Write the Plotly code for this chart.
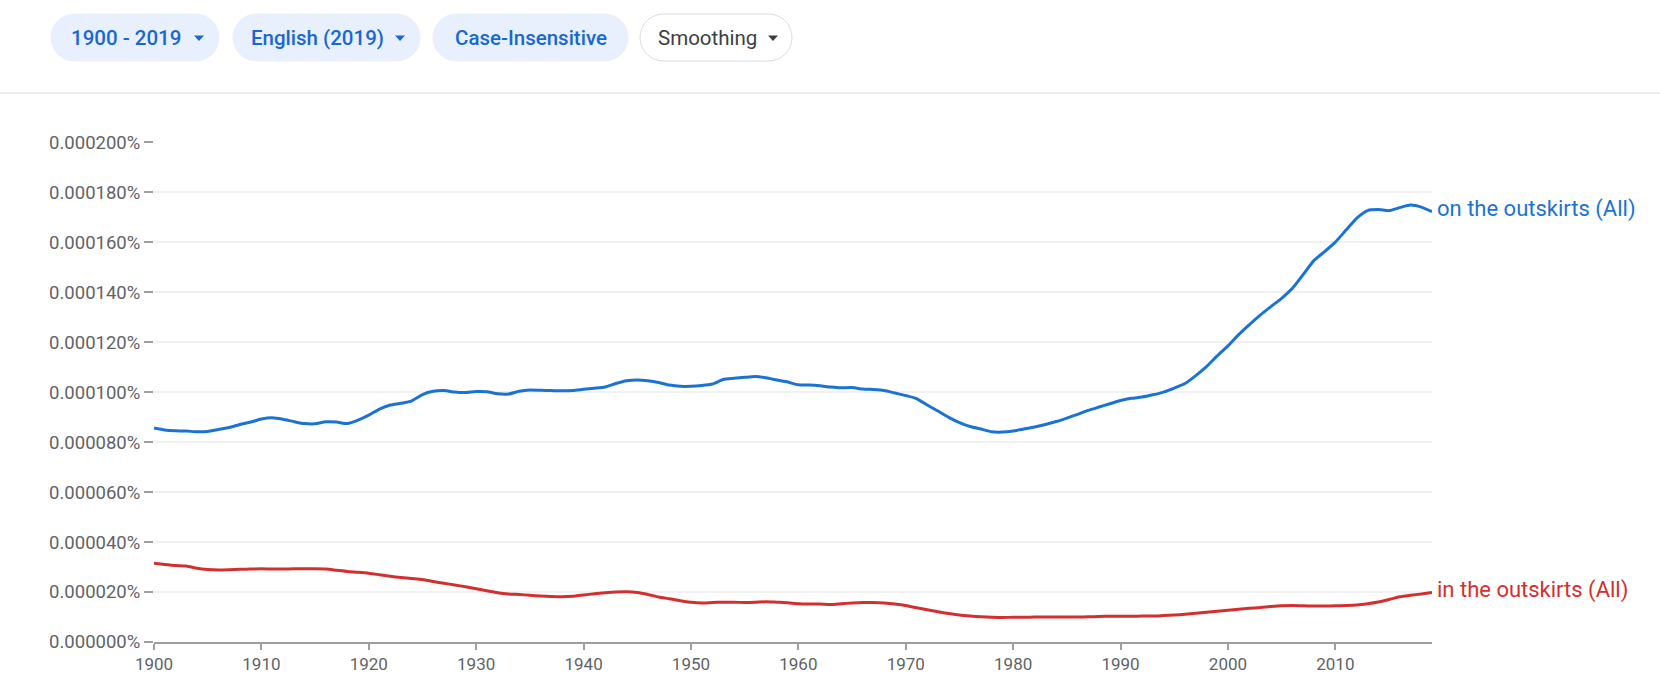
import numpy as np
import plotly.graph_objects as go

# ---------------- data (values in units of 0.000001 %) ----------------
years = list(range(1900, 2020))

on_the_outskirts = [
    85.6, 84.8, 84.5, 84.4, 84.1, 84.2, 85.0, 85.8, 87.0, 88.0,
    89.2, 89.7, 89.1, 88.2, 87.4, 87.3, 88.1, 88.0, 87.4, 88.8,
    90.8, 93.2, 94.8, 95.5, 96.5, 99.0, 100.3, 100.6, 100.0, 99.8,
    100.2, 100.1, 99.3, 99.2, 100.3, 100.8, 100.7, 100.6, 100.5, 100.6,
    101.1, 101.5, 102.0, 103.4, 104.5, 104.8, 104.5, 103.8, 102.8, 102.3,
    102.3, 102.6, 103.2, 105.0, 105.5, 105.9, 106.2, 105.7, 104.8, 104.0,
    102.9, 102.8, 102.5, 102.0, 101.7, 101.8, 101.2, 101.0, 100.6, 99.6,
    98.6, 97.4, 94.8, 92.4, 89.9, 87.8, 86.2, 85.2, 84.1, 84.0,
    84.4, 85.2, 86.0, 87.0, 88.2, 89.6, 91.1, 92.7, 94.0, 95.3,
    96.6, 97.5, 98.0, 98.9, 100.0, 101.6, 103.4, 106.6, 110.2, 114.5,
    118.5, 123.0, 127.0, 130.8, 134.2, 137.5, 141.5, 147.0, 152.6, 156.2,
    160.0, 164.8, 169.6, 172.6, 173.0, 172.6, 173.8, 174.8, 174.0, 172.2,
]

in_the_outskirts = [
    31.5, 31.0, 30.6, 30.4, 29.5, 29.0, 28.8, 28.9, 29.1, 29.2,
    29.3, 29.2, 29.2, 29.3, 29.3, 29.3, 29.2, 28.7, 28.2, 27.9,
    27.5, 26.9, 26.3, 25.8, 25.4, 25.0, 24.2, 23.5, 22.8, 22.1,
    21.3, 20.5, 19.7, 19.2, 19.0, 18.7, 18.4, 18.2, 18.1, 18.3,
    18.8, 19.3, 19.7, 20.0, 20.1, 19.8, 19.0, 18.0, 17.3, 16.5,
    15.9, 15.6, 15.8, 15.9, 15.9, 15.8, 15.9, 16.1, 15.9, 15.7,
    15.3, 15.2, 15.2, 15.0, 15.3, 15.6, 15.8, 15.8, 15.6, 15.2,
    14.6, 13.7, 12.9, 12.1, 11.4, 10.8, 10.4, 10.1, 9.9, 9.8,
    9.9, 9.9, 10.0, 10.0, 10.0, 10.0, 10.0, 10.1, 10.2, 10.3,
    10.3, 10.3, 10.4, 10.4, 10.6, 10.8, 11.1, 11.5, 11.9, 12.3,
    12.7, 13.1, 13.5, 13.8, 14.2, 14.5, 14.6, 14.5, 14.4, 14.4,
    14.5, 14.6, 14.8, 15.3, 16.0, 17.0, 18.1, 18.7, 19.2, 19.8,
]

series_names = ["on the outskirts (All)", "in the outskirts (All)"]
x_tick_years = [1900, 1910, 1920, 1930, 1940, 1950, 1960, 1970, 1980, 1990, 2000, 2010]
y_tick_values = [0, 20, 40, 60, 80, 100, 120, 140, 160, 180, 200]
header_buttons = ["1900 - 2019", "English (2019)", "Case-Insensitive", "Smoothing"]

UNIT = 1e-6  # values above are in millionths of a percent

# ---------------- styling ----------------
W, H = 1660, 686
L, R, T, B = 154, 228, 142, 44
PW, PH = W - L - R, H - T - B
BLUE = "#1a73d4"
RED = "#d32f2f"
FONT = "Roboto"
TICK_GRAY = "#5f6368"
AXIS_GRAY = "#9e9e9e"
PILL_TEXT = "#1967d2"

def px2paper_x(px):
    return (px - L) / PW

def px2paper_y(py):
    return (H - B - py) / PH

fig = go.Figure()
for vals, name, color in [(on_the_outskirts, series_names[0], BLUE),
                          (in_the_outskirts, series_names[1], RED)]:
    yv = np.array(vals) * UNIT
    fig.add_trace(go.Scatter(
        x=years, y=yv, mode="lines", name=name,
        line=dict(color=color, width=3, shape="spline", smoothing=0.6),
        hoverinfo="skip", showlegend=False,
    ))
    fig.add_annotation(
        x=years[-1], y=yv[-1], xref="x", yref="y",
        text=name, showarrow=False, xanchor="left", yanchor="middle",
        xshift=3, yshift=3,
        font=dict(family=FONT, size=22, color=color),
    )

# ---------------- header pills ----------------
pills = [  # (x0, x1, filled)
    (51, 219, True),
    (233, 420, True),
    (433, 628, True),
    (640, 792, False),
]
PY0, PY1 = 14, 61
k = 0.5523

def P(x, y):
    return f"{x - L:.2f},{T - y:.2f}"

def pill_path(x0, y0, x1, y1):
    r = (y1 - y0) / 2.0
    return (f"M{P(x0 + r, y0)} L{P(x1 - r, y0)} "
            f"C{P(x1 - r + k * r, y0)} {P(x1, y0 + r - k * r)} {P(x1, y0 + r)} "
            f"C{P(x1, y0 + r + k * r)} {P(x1 - r + k * r, y1)} {P(x1 - r, y1)} "
            f"L{P(x0 + r, y1)} "
            f"C{P(x0 + r - k * r, y1)} {P(x0, y1 - r + k * r)} {P(x0, y1 - r)} "
            f"C{P(x0, y1 - r - k * r)} {P(x0 + r - k * r, y0)} {P(x0 + r, y0)} Z")

def tri_path(cx, cy):
    return f"M{P(cx - 5, cy - 2.5)} L{P(cx + 5, cy - 2.5)} L{P(cx, cy + 3)} Z"

for x0, x1, filled in pills:
    fig.add_shape(
        type="path", path=pill_path(x0, PY0, x1, PY1),
        xref="paper", yref="paper", xsizemode="pixel", ysizemode="pixel",
        xanchor=0, yanchor=1,
        fillcolor="#e8f0fe" if filled else "white",
        line=dict(color="#e8f0fe" if filled else "#dadce0", width=1),
        layer="above",
    )

text_centers = [126, 317, 531, 707]
text_colors = [PILL_TEXT, PILL_TEXT, PILL_TEXT, "#3c4043"]
text_weights = [500, 500, 500, 400]
for label, cx, col, wt in zip(header_buttons, text_centers, text_colors, text_weights):
    fig.add_annotation(
        x=px2paper_x(cx), y=px2paper_y(38), xref="paper", yref="paper",
        text=label, showarrow=False, xanchor="center", yanchor="middle",
        font=dict(family=FONT, size=20.5, color=col, weight=wt),
    )

for cx, col in [(199, PILL_TEXT), (400, PILL_TEXT), (773, "#3c4043")]:
    fig.add_shape(
        type="path", path=tri_path(cx, 38),
        xref="paper", yref="paper", xsizemode="pixel", ysizemode="pixel",
        xanchor=0, yanchor=1, fillcolor=col, line=dict(width=0),
        layer="above",
    )

# divider line under header
fig.add_shape(
    type="line", xref="paper", yref="paper",
    x0=px2paper_x(0), x1=px2paper_x(W), y0=px2paper_y(93), y1=px2paper_y(93),
    line=dict(color="#dadce0", width=1),
)

fig.update_layout(
    width=W, height=H,
    margin=dict(l=L, r=R, t=T, b=B, pad=0),
    paper_bgcolor="white", plot_bgcolor="white",
    font=dict(family=FONT, color=TICK_GRAY),
    xaxis=dict(
        range=[1900, 2019], tickvals=x_tick_years,
        ticktext=[str(y) for y in x_tick_years],
        showgrid=False, zeroline=False,
        showline=True, linecolor=AXIS_GRAY, linewidth=2,
        ticks="outside", ticklen=6, tickwidth=2, tickcolor=AXIS_GRAY,
        tickfont=dict(family=FONT, size=17, color=TICK_GRAY),
        fixedrange=True,
    ),
    yaxis=dict(
        range=[0, 200.05 * UNIT],
        tickvals=[v * UNIT for v in y_tick_values],
        ticktext=[f"{v * UNIT:.6f}%" for v in y_tick_values],
        showgrid=True, gridcolor="#f1f1f1", gridwidth=1.5,
        zeroline=False, showline=False,
        ticks="outside", ticklen=9, tickwidth=2, tickcolor=AXIS_GRAY,
        tickfont=dict(family=FONT, size=18.5, color=TICK_GRAY),
        ticklabelstandoff=0,
        fixedrange=True,
    ),
    hovermode=False,
)

fig.write_html("out.html", config={"displayModeBar": False})
